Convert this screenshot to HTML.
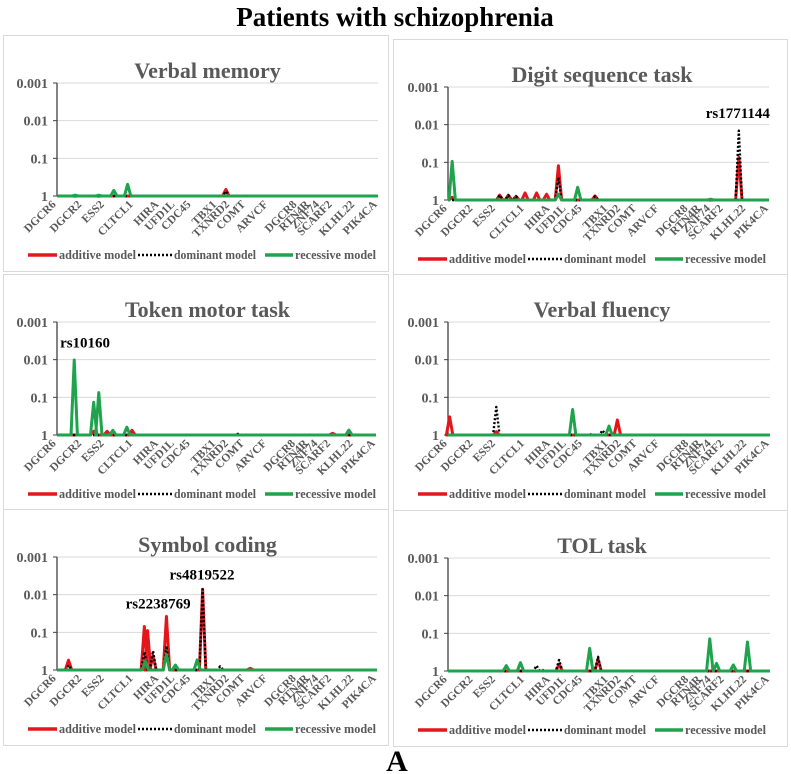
<!DOCTYPE html>
<html><head><meta charset="utf-8">
<style>
html,body{margin:0;padding:0;background:#fff;}
svg{display:block;font-family:"Liberation Serif",serif;}
</style></head>
<body>
<svg id="fig" width="791" height="774" viewBox="0 0 791 774">
<text x="395" y="26" text-anchor="middle" font-size="27" font-weight="bold" fill="#000">Patients with schizophrenia</text>
<text x="397" y="771" text-anchor="middle" font-size="30" font-weight="bold" fill="#000">A</text>
</svg>
<script>
const N = 100;
const geneNames = ["DGCR6","DGCR2","ESS2","CLTCL1","HIRA","UFD1L","CDC45","TBX1","TXNRD2","COMT","ARVCF","DGCR8","RTN4R","ZNF74","SCARF2","KLHL22","PIK4CA"];
const geneIdx = [-2,6,13,22,30,35,40,48,52,57,64,73,77,80,84,91,98];
const yTicks = [0.001,0.01,0.1,1];
const yTickLabels = ["0.001","0.01","0.1","1"];

// Panel 1: Verbal memory
const vmAddIdx=[52.6], vmAddP=[0.67];
const vmDomIdx=[52.6], vmDomP=[0.75];
const vmRecIdx=[5.7,13,17.7,22], vmRecP=[0.95,0.95,0.71,0.49];
// Panel 2: Digit sequence task
const dsAddIdx=[1.3,16.1,18.8,21.2,24,27.6,30.7,34.4,45.8,90.6], dsAddP=[0.85,0.74,0.74,0.8,0.65,0.65,0.7,0.123,0.78,0.074];
const dsDomIdx=[16.1,18.8,21.2,34.4,45.8,90.6], dsDomP=[0.74,0.75,0.8,0.25,0.8,0.0145];
const dsRecIdx=[1.3,34.4,40.4,81.8], dsRecP=[0.094,0.7,0.46,0.95];
// Panel 3: Token motor task
const tmAddIdx=[11.5,15.7,23.5,86.4], tmAddP=[0.8,0.8,0.75,0.9];
const tmDomIdx=[56.7], tmDomP=[0.93];
const tmRecIdx=[5.4,11.5,13.1,17.5,21.9,91.5], tmRecP=[0.0102,0.135,0.075,0.75,0.62,0.74];
// Panel 4: Verbal fluency
const vfAddIdx=[0.5,15,52.6], vfAddP=[0.33,0.82,0.4];
const vfDomIdx=[15,44,48], vfDomP=[0.18,0.95,0.75];
const vfRecIdx=[38.7,50], vfRecP=[0.21,0.58];
// Panel 5: Symbol coding
const scAddIdx=[3.6,27.3,28.3,30,34.2,45.5,60.4], scAddP=[0.55,0.07,0.09,0.42,0.038,0.0072,0.9];
const scDomIdx=[3.6,27.3,30,34.2,45.5,51], scDomP=[0.75,0.33,0.31,0.23,0.0072,0.8];
const scRecIdx=[27.6,34.2,37,43.8], scRecP=[0.58,0.38,0.74,0.54];
// Panel 6: TOL task
const tlAddIdx=[34.5,46.6], tlAddP=[0.66,0.49];
const tlDomIdx=[27.5,29,34.5,46.6], tlDomP=[0.72,0.9,0.51,0.42];
const tlRecIdx=[18.1,22.5,44,81.3,83.4,88.6,93], tlRecP=[0.72,0.6,0.25,0.14,0.63,0.69,0.17];

const panels = [
 {name:"verbal-memory",title:"Verbal memory",bx:3,bt:35,bw:385,x0:57,x1:378,add:[vmAddIdx,vmAddP],dom:[vmDomIdx,vmDomP],rec:[vmRecIdx,vmRecP],notes:[]},
 {name:"digit-sequence",title:"Digit sequence task",bx:393,bt:39,bw:394,x0:448,x1:769,add:[dsAddIdx,dsAddP],dom:[dsDomIdx,dsDomP],rec:[dsRecIdx,dsRecP],notes:[["rs1771144",90.3,0.0066]]},
 {name:"token-motor",title:"Token motor task",bx:3,bt:274,bw:385,x0:57,x1:376,add:[tmAddIdx,tmAddP],dom:[tmDomIdx,tmDomP],rec:[tmRecIdx,tmRecP],notes:[["rs10160",8.8,0.0047]]},
 {name:"verbal-fluency",title:"Verbal fluency",bx:393,bt:274,bw:394,x0:448,x1:770,add:[vfAddIdx,vfAddP],dom:[vfDomIdx,vfDomP],rec:[vfRecIdx,vfRecP],notes:[]},
 {name:"symbol-coding",title:"Symbol coding",bx:3,bt:509,bw:385,x0:57,x1:377,add:[scAddIdx,scAddP],dom:[scDomIdx,scDomP],rec:[scRecIdx,scRecP],notes:[["rs2238769",31.6,0.023],["rs4819522",45.3,0.0039]]},
 {name:"tol-task",title:"TOL task",bx:393,bt:510,bw:394,x0:448,x1:770,add:[tlAddIdx,tlAddP],dom:[tlDomIdx,tlDomP],rec:[tlRecIdx,tlRecP],notes:[]}
];

const NS="http://www.w3.org/2000/svg";
const svg=document.getElementById("fig");
function mk(tag,attrs,parent){const e=document.createElementNS(NS,tag);for(const k in attrs)e.setAttribute(k,attrs[k]);(parent||svg).appendChild(e);return e;}

panels.forEach(p=>{
  const T=p.bt;
  const yTop=T+48, yBot=T+161;
  const g=mk("g",{});
  
  
  const xs=i=>p.x0+(i/N)*(p.x1-p.x0);
  const ys=v=>yBot+(Math.log10(v)/3)*(yBot-yTop);
  const box=mk("rect",{x:p.bx+0.5,y:T+0.5,width:p.bw,height:236,fill:"#fff",stroke:"#d9d9d9","stroke-width":1},g);
  
  
  const tt=mk("text",{x:p.bx+p.bw/2+12,y:T+43,"text-anchor":"middle","font-size":22,"font-weight":"bold",fill:"#595959"},g);
  tt.textContent=p.title;
  
  
  yTicks.forEach((t,k)=>{
    const y=ys(t);
    if(t<1){const gl=mk("line",{x1:p.x0,x2:p.x1,y1:y,y2:y,stroke:"#d9d9d9","stroke-width":1},g);
      
      }
    const tk=mk("line",{x1:p.x0-4,x2:p.x0,y1:y,y2:y,stroke:"#404040","stroke-width":1},g);
    
    
    const tl=mk("text",{x:p.x0-9,y:y+5,"text-anchor":"end","font-size":14,"font-weight":"bold",fill:"#595959"},g);
    tl.textContent=yTickLabels[k];
    
    
  });
  const ax=mk("line",{x1:p.x0,x2:p.x0,y1:yTop,y2:yBot,stroke:"#404040","stroke-width":1.3},g);
  
  
  geneNames.forEach((nm,k)=>{
    const x=xs(geneIdx[k])+6, y=yBot+9;
    const t=mk("text",{x:x,y:y,"text-anchor":"end","font-size":11.5,"font-weight":"bold",fill:"#595959",transform:`rotate(-45 ${x} ${y})`},g);
    t.textContent=nm;
    
    
  });
  function series(pair,color,w,dash,nm){
    const [idx,pv]=pair;
    const items=idx.map((v,k)=>[v,pv[k]]).sort((a,b)=>a[0]-b[0]);
    let d=`M${xs(0)},${ys(1)}`;
    items.forEach(([i,v])=>{
      d+=` L${xs(i-1)},${ys(1)} L${xs(i)},${ys(v)} L${xs(i+1)},${ys(1)}`;
    });
    d+=` L${xs(N)},${ys(1)}`;
    const a={d:d,fill:"none",stroke:color,"stroke-width":w,"stroke-linejoin":"round"};
    if(dash)a["stroke-dasharray"]=dash;
    const path=mk("path",a,g);
    
    
  }
  series(p.add,"#e3161b",3,null,'additive-series');
  series(p.dom,"#000",2.4,"2,2",'dominant-series');
  series(p.rec,"#1fa34c",3,null,'recessive-series');
  p.notes.forEach(n=>{
    const t=mk("text",{x:xs(n[1]),y:ys(n[2]),"text-anchor":"middle","font-size":15,"font-weight":"bold",fill:"#000"},g);
    t.textContent=n[0];
    
    
  });
  const ly=T+220, lx=p.bx;
  const leg=[["additive model","#e3161b",null,25,29,77],["dominant model","#000","2,2",135,34,82],["recessive model","#1fa34c",null,262,28,81]];
  leg.forEach(l=>{
    const ln=mk("line",{x1:lx+l[3],x2:lx+l[3]+l[4],y1:ly,y2:ly,stroke:l[1],"stroke-width":l[2]?2.4:3.5},g);
    if(l[2])ln.setAttribute("stroke-dasharray",l[2]);
    
    
    const t=mk("text",{x:lx+l[3]+l[4]+2,y:ly+4,"font-size":12.5,"font-weight":"bold",fill:"#595959",textLength:l[5],lengthAdjust:"spacingAndGlyphs"},g);
    t.textContent=l[0];
    
    
  });
});
</script>
</body></html>
